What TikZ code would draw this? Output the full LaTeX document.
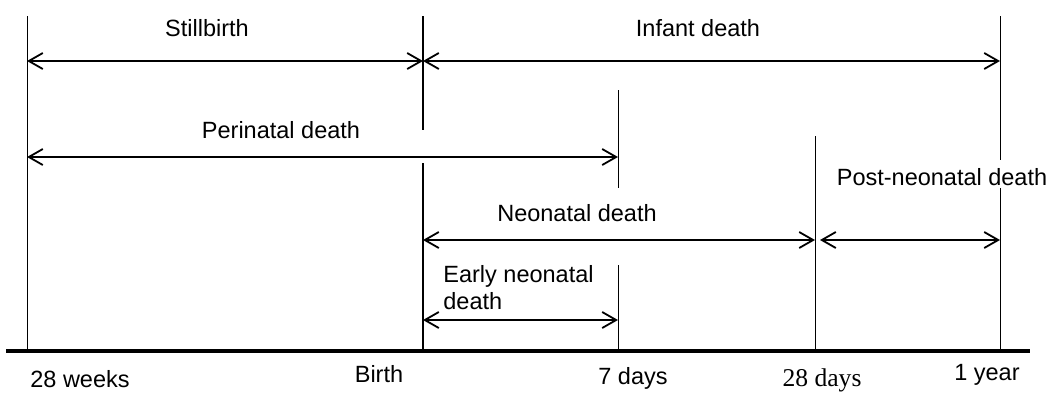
\documentclass[tikz,border=0pt]{standalone}
\usepackage{fontspec}
\setmainfont{Liberation Sans}
\newfontfamily\timesfont{Liberation Serif}
\usetikzlibrary{arrows.meta,positioning}

\begin{document}
\begin{tikzpicture}[
  x=0.5pt, y=-0.5pt,
  lbl/.style={font=\fontsize{11.75}{13.5}\selectfont, inner sep=1pt},
  axlbl/.style={lbl, anchor=base},
  vline/.style={line width=0.5pt},
  arr/.style={{Straight Barb[length=7pt,width=8pt]}-{Straight Barb[length=7pt,width=8pt]}, line width=0.9pt}
]
  \useasboundingbox (0,0) rectangle (1054,392);
  % points on the time axis
  \coordinate (wk28) at (27,351);
  \coordinate (birth) at (423,351);
  \coordinate (day7) at (618,351);
  \coordinate (day28) at (815,351);
  \coordinate (year1) at (1000,351);
  \coordinate (axL) at (6,351);
  \coordinate (axR) at (1030,351);
  % rows of the arrows
  \coordinate (rowA) at (0,61);
  \coordinate (rowB) at (0,157);
  \coordinate (rowC) at (0,240);
  \coordinate (rowD) at (0,320);

  \draw[line width=2pt] (axL) -- (axR);
  \draw[vline] (wk28 |- 0,16) -- (wk28);
  \draw[line width=1pt] (birth |- 0,16) -- (birth |- 0,130);
  \draw[line width=1pt] (birth |- 0,163) -- (birth);
  \draw[vline] (day7 |- 0,90) -- (day7 |- 0,188);
  \draw[vline] (day7 |- 0,265) -- (day7);
  \draw[vline] (day28 |- 0,136) -- (day28);
  \draw[vline] (year1 |- 0,16) -- (year1 |- 0,160);
  \draw[vline] (year1 |- 0,188) -- (year1);

  \node[lbl] (stillb) at (207,28) {Stillbirth};
  \node[lbl] (infant) at (698,28) {Infant death};
  \node[lbl] (perin) at (281,130) {Perinatal death};
  \node[lbl] (neon) at (577,213) {Neonatal death};
  \node[lbl] (postneo) at (942,177) {Post-neonatal death};
  \node[lbl, align=left, anchor=west] (earlyneo) at (441,288) {Early neonatal\\death};

  \draw[arr] (wk28 |- rowA) -- (birth |- rowA);
  \draw[arr] (birth |- rowA) -- (year1 |- rowA);
  \draw[arr] (wk28 |- rowB) -- (day7 |- rowB);
  \draw[arr] (birth |- rowC) -- (day28 |- rowC);
  \draw[arr] ([xshift=2.5pt]day28 |- rowC) -- (year1 |- rowC);
  \draw[arr] (birth |- rowD) -- (day7 |- rowD);

  \node[axlbl] (lwk28) at (80,387) {28 weeks};
  \node[axlbl] (lbirth) at (379,382) {Birth};
  \node[axlbl] (lday7) at (633,384) {7 days};
  \node[axlbl, font=\timesfont\fontsize{12.8}{14}\selectfont] (lday28) at (822,386) {28 days};
  \node[axlbl] (lyear1) at (987,380) {1 year};
\end{tikzpicture}
\end{document}
